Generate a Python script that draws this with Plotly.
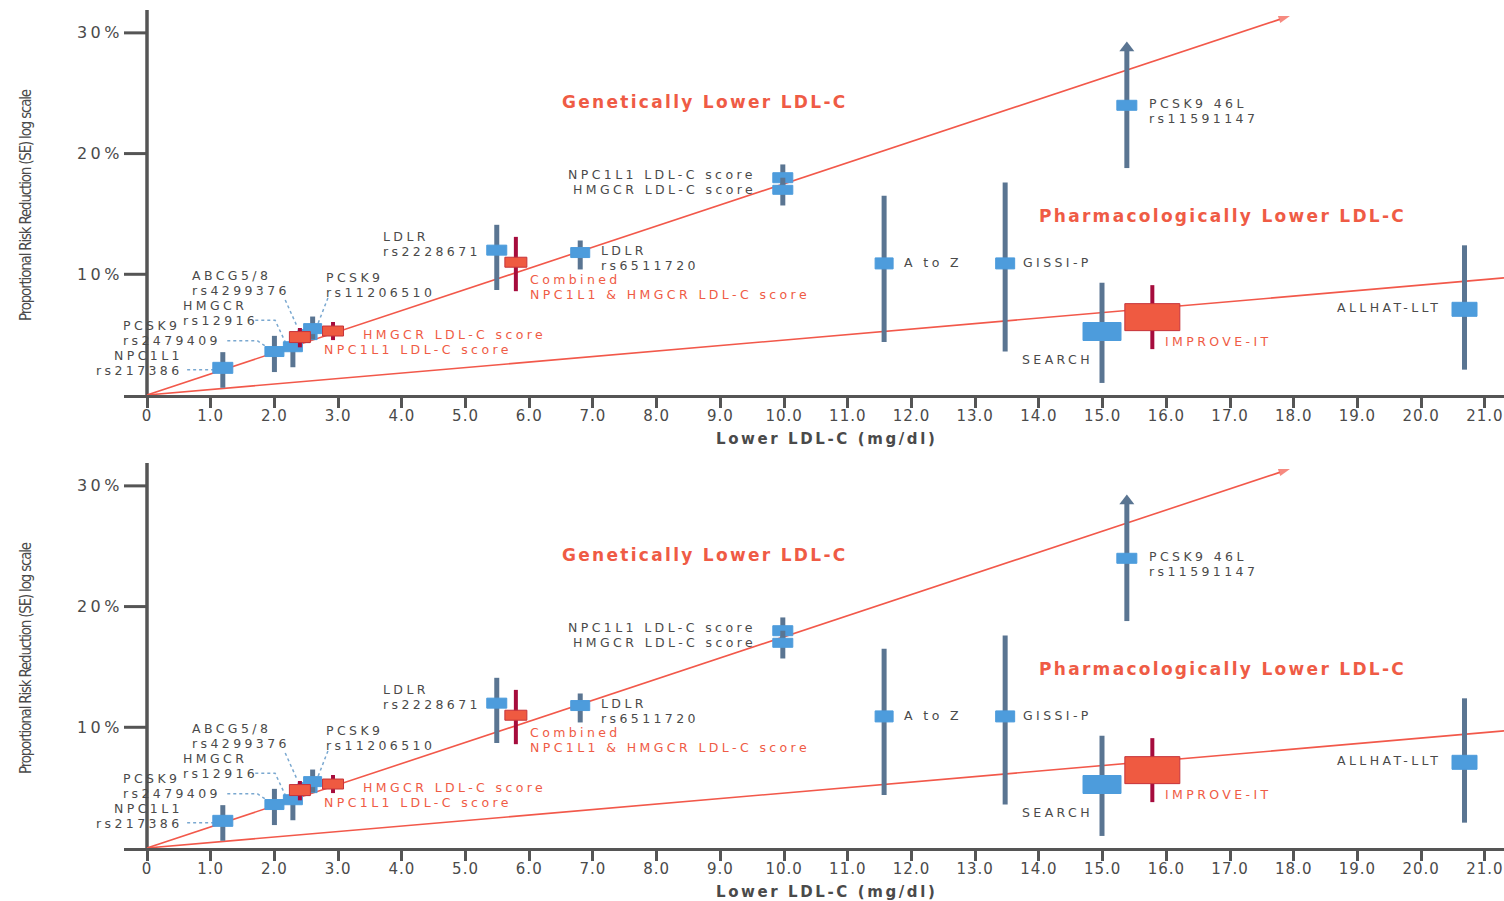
import plotly.graph_objects as go

# ---------------- data ----------------
x_tick_values = list(range(0, 22))
x_tick_labels = ["0"] + [f"{v}.0" for v in range(1, 22)]
y_tick_values = [10, 20, 30]
y_tick_labels = ["10%", "20%", "30%"]

# trend lines (lower LDL-C in mg/dl vs proportional risk reduction in %)
genetic_trend_x = [0, 17.94]
genetic_trend_y = [0, 31.4]
pharma_trend_x = [0, 21.3]
pharma_trend_y = [0, 9.7]

# genetic variants / trials shown in blue
blue_names = ["NPC1L1 rs217386", "PCSK9 rs2479409", "HMGCR rs12916", "ABCG5/8 rs4299376",
              "PCSK9 rs11206510", "LDLR rs2228671", "LDLR rs6511720", "NPC1L1 LDL-C score",
              "HMGCR LDL-C score", "PCSK9 46L rs11591147", "A to Z", "GISSI-P", "SEARCH",
              "ALLHAT-LLT"]
blue_ldl = [1.19, 2.0, 2.29, 2.52, 2.6, 5.49, 6.8, 9.98, 9.98, 15.38, 11.57, 13.47, 14.99, 20.68]
blue_rrr = [2.25, 3.6, 4.0, 5.0, 5.5, 12.0, 11.8, 18.0, 17.0, 24.0, 10.9, 10.9, 5.26, 7.1]
blue_lo = [0.6, 1.9, 2.3, 4.3, 4.6, 8.7, 10.4, 17.0, 15.7, 18.8, 4.4, 3.6, 1.0, 2.1]
blue_hi = [3.55, 4.9, 4.8, 5.6, 6.5, 14.1, 12.8, 19.1, 18.0, 28.6, 16.5, 17.6, 9.3, 12.4]

# scores / trial shown in red
red_names = ["HMGCR LDL-C score", "NPC1L1 LDL-C score",
             "Combined NPC1L1 & HMGCR LDL-C score", "IMPROVE-IT"]
red_ldl = [2.40, 2.92, 5.79, 15.78]
red_rrr = [4.8, 5.3, 11.0, 6.45]
red_lo = [3.95, 4.55, 8.6, 3.8]
red_hi = [5.55, 6.05, 13.1, 9.1]

# ---------------- style ----------------
FIG_W, FIG_H = 1504, 901
PLOT_LEFT = 124
X_RANGE = [-0.361, 21.30]
Y_RANGE = [0, 32.06]
PANELS = [("x", "y", 395, 8), ("x2", "y2", 848, 461)]  # axis ids, plot bottom/top (px)

X_PPU = (FIG_W - PLOT_LEFT) / (X_RANGE[1] - X_RANGE[0])
Y_PPU = (395 - 8) / (Y_RANGE[1] - Y_RANGE[0])

AXIS = "#555555"
TEXT = "#4a4a4a"
RED_TEXT = "#ef5b45"
TREND = "#f2584a"
BLUE_BOX = "#4d9cdc"
BLUE_BAR = "#5a7592"
RED_BOX = "#ef5a41"
RED_EDGE = "#c6343b"
RED_BAR = "#a60c3d"
LEADER = "#7aa8d0"
FONT = "DejaVu Sans"
LABEL_SIZE = 12.5
LABEL_SPACING = 3.4

blue_box_px = [(20, 11), (19, 10), (19, 10), (19, 10), (18, 10), (20, 10), (19, 10),
               (20, 10), (20, 9), (20, 10), (18, 11), (19, 11), (38, 18), (25, 14)]
red_box_px = [(21, 11), (21, 10), (22, 10), (55, 27)]


def spaced(text, sp):
    return f'<span style="letter-spacing:{sp}px">{text}</span>'


# label lines: (text, x, y, xanchor, colour)
labels = [
    ("NPC1L1", 0.58, 3.27, "right", TEXT),
    ("rs217386", 0.58, 2.05, "right", TEXT),
    ("PCSK9", -0.39, 5.75, "left", TEXT),
    ("rs2479409", -0.39, 4.52, "left", TEXT),
    ("HMGCR", 0.55, 7.42, "left", TEXT),
    ("rs12916", 0.55, 6.20, "left", TEXT),
    ("ABCG5/8", 0.69, 9.86, "left", TEXT),
    ("rs4299376", 0.69, 8.63, "left", TEXT),
    ("PCSK9", 2.79, 9.73, "left", TEXT),
    ("rs11206510", 2.79, 8.50, "left", TEXT),
    ("LDLR", 3.69, 13.09, "left", TEXT),
    ("rs2228671", 3.69, 11.86, "left", TEXT),
    ("LDLR", 7.11, 11.96, "left", TEXT),
    ("rs6511720", 7.11, 10.74, "left", TEXT),
    ("Combined", 6.0, 9.53, "left", RED_TEXT),
    ("NPC1L1 &amp; HMGCR LDL-C score", 6.0, 8.30, "left", RED_TEXT),
    ("NPC1L1 LDL-C score", 9.58, 18.23, "right", TEXT),
    ("HMGCR LDL-C score", 9.58, 17.00, "right", TEXT),
    ("HMGCR LDL-C score", 3.375, 5.05, "left", RED_TEXT),
    ("NPC1L1 LDL-C score", 2.76, 3.81, "left", RED_TEXT),
    ("PCSK9 46L", 15.71, 24.14, "left", TEXT),
    ("rs11591147", 15.71, 22.91, "left", TEXT),
    ("A to Z", 11.87, 10.94, "left", TEXT),
    ("GISSI-P", 13.74, 10.94, "left", TEXT),
    ("SEARCH", 14.87, 2.98, "right", TEXT),
    ("IMPROVE-IT", 15.97, 4.47, "left", RED_TEXT),
    ("ALLHAT-LLT", 20.33, 7.21, "right", TEXT),
]

headers = [("Genetically Lower LDL-C", 8.76, 24.27), ("Pharmacologically Lower LDL-C", 16.88, 14.83)]

# dotted leader lines from labels to their markers
leaders = [
    ([0.63, 1.04], [2.1, 2.1]),
    ([1.26, 1.73, 1.88], [4.5, 4.5, 3.98]),
    ([1.70, 2.01, 2.17], [6.2, 6.2, 4.39]),
    ([2.17, 2.36], [7.87, 5.63]),
    ([2.84, 2.67], [8.04, 5.72]),
]

fig = go.Figure()
annotations = []
shapes = []


def box_trace(x, y, wpx, hpx, fill, edge, xa, ya, name):
    hw, hh = wpx / 2 / X_PPU, hpx / 2 / Y_PPU
    return go.Scatter(x=[x - hw, x + hw, x + hw, x - hw, x - hw],
                      y=[y - hh, y - hh, y + hh, y + hh, y - hh],
                      mode="lines", fill="toself", fillcolor=fill,
                      line=dict(color=edge, width=1), xaxis=xa, yaxis=ya,
                      name=name, hoverinfo="name")


for xa, ya, bottom, top in PANELS:
    # axis decorations: vertical axis at 0 and left tick marks
    shapes.append(dict(type="line", xref=xa, yref=ya, x0=0, x1=0, y0=-0.15, y1=31.9,
                       line=dict(color=AXIS, width=3.5), layer="below"))
    for v in y_tick_values:
        shapes.append(dict(type="line", xref=xa, yref=ya, x0=X_RANGE[0], x1=0, y0=v, y1=v,
                           line=dict(color=AXIS, width=3), layer="below"))

    # trend lines
    fig.add_trace(go.Scatter(x=pharma_trend_x, y=pharma_trend_y, mode="lines",
                             line=dict(color=TREND, width=1.6), xaxis=xa, yaxis=ya,
                             hoverinfo="skip"))
    fig.add_trace(go.Scatter(x=genetic_trend_x, y=genetic_trend_y, mode="lines+markers",
                             line=dict(color=TREND, width=1.6),
                             marker=dict(symbol="arrow", size=[0, 12], angleref="previous",
                                         color=TREND, line=dict(width=0)),
                             xaxis=xa, yaxis=ya, hoverinfo="skip"))

    # leader lines
    for lx, ly in leaders:
        fig.add_trace(go.Scatter(x=lx, y=ly, mode="lines",
                                 line=dict(color=LEADER, width=1.5, dash="dot"),
                                 xaxis=xa, yaxis=ya, hoverinfo="skip"))

    # blue intervals and boxes
    for i, name in enumerate(blue_names):
        fig.add_trace(go.Scatter(x=[blue_ldl[i], blue_ldl[i]], y=[blue_lo[i], blue_hi[i]],
                                 mode="lines", line=dict(color=BLUE_BAR, width=5),
                                 xaxis=xa, yaxis=ya, hoverinfo="skip"))
        w, h = blue_box_px[i]
        fig.add_trace(box_trace(blue_ldl[i], blue_rrr[i], w, h, BLUE_BOX, BLUE_BOX, xa, ya, name))

    # open-ended interval for PCSK9 46L
    k = blue_names.index("PCSK9 46L rs11591147")
    fig.add_trace(go.Scatter(x=[blue_ldl[k]], y=[blue_hi[k] + 0.15], mode="markers",
                             marker=dict(symbol="triangle-up", size=13, color=BLUE_BAR),
                             xaxis=xa, yaxis=ya, hoverinfo="skip"))

    # red intervals and boxes
    for i, name in enumerate(red_names):
        fig.add_trace(go.Scatter(x=[red_ldl[i], red_ldl[i]], y=[red_lo[i], red_hi[i]],
                                 mode="lines", line=dict(color=RED_BAR, width=4),
                                 xaxis=xa, yaxis=ya, hoverinfo="skip"))
        w, h = red_box_px[i]
        fig.add_trace(box_trace(red_ldl[i], red_rrr[i], w, h, RED_BOX, RED_EDGE, xa, ya, name))

    # point labels
    for txt, lx, ly, anchor, color in labels:
        xshift = 0
        if lx < X_RANGE[0]:
            xshift = (lx - X_RANGE[0]) * X_PPU
            lx = X_RANGE[0]
        annotations.append(dict(x=lx, y=ly, xref=xa, yref=ya, text=spaced(txt, LABEL_SPACING),
                                xshift=xshift, showarrow=False, xanchor=anchor,
                                yanchor="middle", borderpad=0,
                                font=dict(family=FONT, size=LABEL_SIZE, color=color)))
    for txt, hx, hy in headers:
        annotations.append(dict(x=hx, y=hy, xref=xa, yref=ya, text=spaced(f"<b>{txt}</b>", 2.3),
                                showarrow=False, xanchor="center", yanchor="middle",
                                font=dict(family=FONT, size=17, color=RED_TEXT)))

    # axis titles
    annotations.append(dict(x=826 / FIG_W, y=1 - (bottom + 44) / FIG_H,
                            xref="paper", yref="paper",
                            text=spaced("<b>Lower LDL-C (mg/dl)</b>", 2.6),
                            showarrow=False, xanchor="center", yanchor="middle",
                            font=dict(family=FONT, size=15, color=TEXT)))
    annotations.append(dict(x=26 / FIG_W, y=1 - (bottom - 190) / FIG_H,
                            xref="paper", yref="paper",
                            text=spaced("Proportional Risk Reduction (SE) log scale", -1.2),
                            textangle=-90, showarrow=False, xanchor="center", yanchor="middle",
                            font=dict(family="Liberation Sans Narrow, DejaVu Sans Condensed, sans-serif",
                                      size=15, color=TEXT)))


def x_axis(anchor):
    return dict(domain=[PLOT_LEFT / FIG_W, 1.0], range=X_RANGE, anchor=anchor,
                showline=True, linecolor=AXIS, linewidth=3, ticks="outside", ticklen=10,
                tickwidth=2.5, tickcolor=AXIS, tickvals=x_tick_values,
                ticktext=[spaced(t, 1.0) for t in x_tick_labels],
                tickfont=dict(family=FONT, size=15, color=TEXT), ticklabelstandoff=-5,
                showgrid=False, zeroline=False, fixedrange=True)


def y_axis(anchor, bottom, top):
    return dict(domain=[1 - bottom / FIG_H, 1 - top / FIG_H], range=Y_RANGE, anchor=anchor,
                showline=False, ticks="", tickvals=y_tick_values,
                ticktext=[spaced(t, 3.5) for t in y_tick_labels],
                tickfont=dict(family=FONT, size=16, color=TEXT),
                showgrid=False, zeroline=False, fixedrange=True)


fig.update_layout(
    width=FIG_W, height=FIG_H, margin=dict(l=0, r=0, t=0, b=0),
    paper_bgcolor="white", plot_bgcolor="white", showlegend=False,
    xaxis=x_axis("y"), yaxis=y_axis("x", 395, 8),
    xaxis2=x_axis("y2"), yaxis2=y_axis("x2", 848, 461),
    annotations=annotations, shapes=shapes,
)

fig.write_html("out.html")
